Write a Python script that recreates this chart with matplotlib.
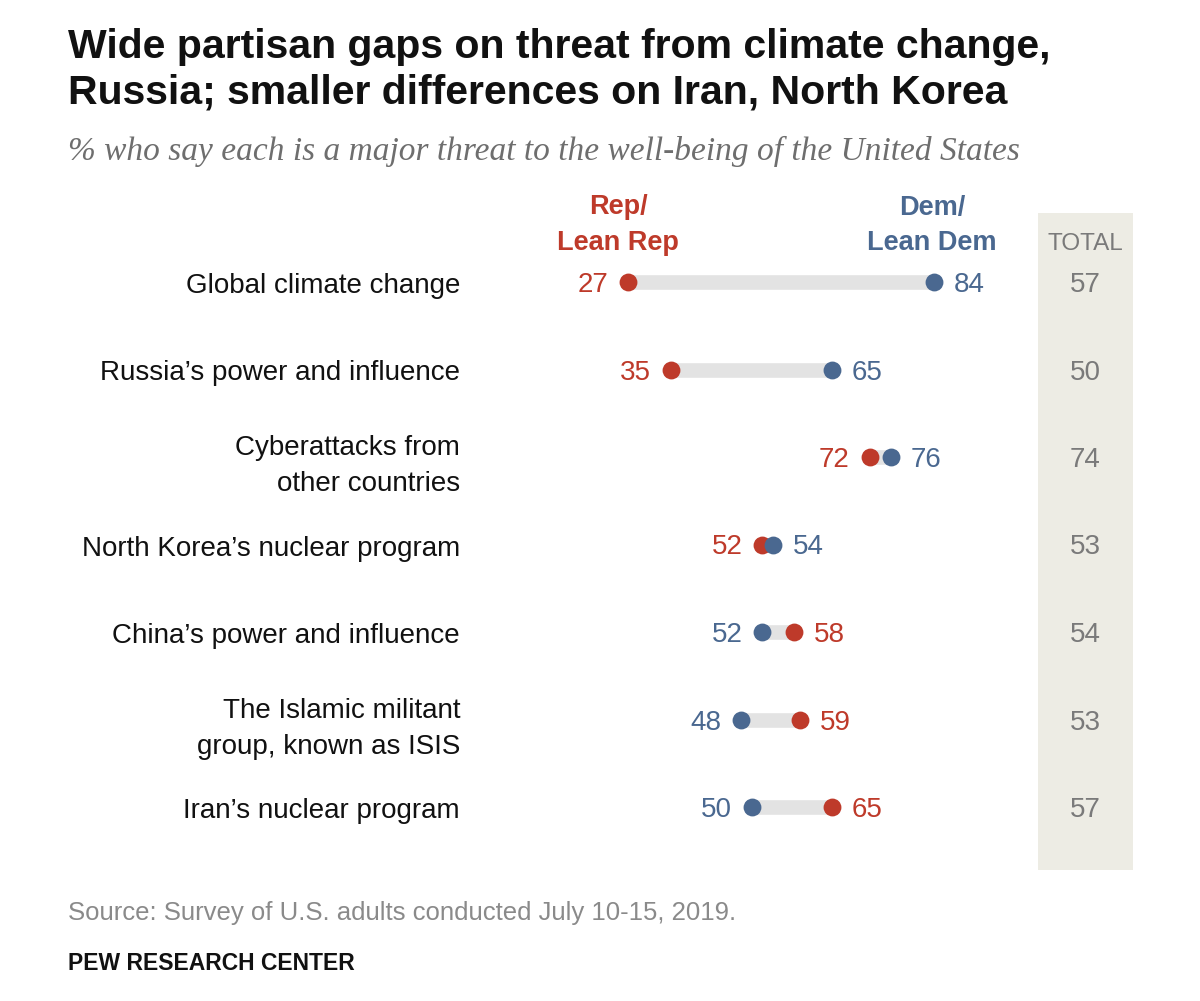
import matplotlib
matplotlib.use("Agg")
import matplotlib.pyplot as plt
from matplotlib.patches import Rectangle

categories = ["Global climate change", "Russia\u2019s power and influence",
              "Cyberattacks from\nother countries", "North Korea\u2019s nuclear program",
              "China\u2019s power and influence", "The Islamic militant\ngroup, known as ISIS",
              "Iran\u2019s nuclear program"]
rep = [27, 35, 72, 52, 58, 59, 65]
dem = [84, 65, 76, 54, 52, 48, 50]
total = [57, 50, 74, 53, 54, 53, 57]

RED = "#BE3A2A"
BLUE = "#4A6890"
LINE = "#E3E3E3"
GRAY = "#7A7A7A"
SHADE = "#EDECE4"

W, H = 1200, 1001
fig = plt.figure(figsize=(W / 100, H / 100), dpi=100)
fig.patch.set_facecolor("white")

x0px, scale = 483.0, 5.37
rowpx0, rowstep = 282.0, 87.5
left = x0px / W
width = 100 * scale / W
top_px = rowpx0 - rowstep / 2
bot_px = rowpx0 + 6 * rowstep + rowstep / 2
ax = fig.add_axes([left, 1 - bot_px / H, width, (bot_px - top_px) / H])
ax.set_xlim(0, 100)
ax.set_ylim(6.5, -0.5)
ax.axis("off")

font = "Liberation Sans"
FS = 20

sx0 = (1038 - x0px) / scale
sx1 = (1133 - x0px) / scale
sy0 = (213 - rowpx0) / rowstep
sy1 = (870 - rowpx0) / rowstep
ax.add_patch(Rectangle((sx0, sy0), sx1 - sx0, sy1 - sy0, facecolor=SHADE,
                       edgecolor="none", clip_on=False, zorder=0))
tx = (sx0 + sx1) / 2

off = 3.7
for i, cat in enumerate(categories):
    r, d = rep[i], dem[i]
    ax.plot([r, d], [i, i], color=LINE, lw=10.5, solid_capstyle="butt", zorder=1)
    ax.scatter([r], [i], s=165, color=RED, zorder=3, linewidths=0)
    ax.scatter([d], [i], s=165, color=BLUE, zorder=4, linewidths=0)
    if r < d:
        ax.text(r - off, i, str(r), color=RED, ha="right", va="center_baseline", fontsize=FS, family=font)
        ax.text(d + off, i, str(d), color=BLUE, ha="left", va="center_baseline", fontsize=FS, family=font)
    else:
        ax.text(d - off, i, str(d), color=BLUE, ha="right", va="center_baseline", fontsize=FS, family=font)
        ax.text(r + off, i, str(r), color=RED, ha="left", va="center_baseline", fontsize=FS, family=font)
    dy = 9 if "\n" in cat else 4
    ax.text((460 - x0px) / scale, i + dy / rowstep, cat, ha="right", va="center", fontsize=FS,
            family=font, color="#111111", linespacing=1.5, clip_on=False)
    ax.text(tx, i, str(total[i]), ha="center", va="center_baseline", fontsize=FS,
            family=font, color=GRAY)

hy = (225 - rowpx0) / rowstep
ax.text((618 - x0px) / scale, hy, "Rep/\nLean Rep", ha="center", va="center",
        fontsize=19.5, fontweight="bold", color=RED, family=font, linespacing=1.45)
ax.text((932 - x0px) / scale, hy, "Dem/\nLean Dem", ha="center", va="center",
        fontsize=19.5, fontweight="bold", color=BLUE, family=font, linespacing=1.45)
ax.text(tx, (242 - rowpx0) / rowstep, "TOTAL", ha="center", va="center_baseline",
        fontsize=17.5, color=GRAY, family=font)

fig.text(68 / W, 1 - 28 / H,
         "Wide partisan gaps on threat from climate change,\nRussia; smaller differences on Iran, North Korea",
         ha="left", va="top", fontsize=29.5, fontweight="bold", family=font,
         color="#111111", linespacing=1.25)
fig.text(68 / W, 1 - 151 / H,
         "% who say each is a major threat to the well-being of the United States",
         ha="left", va="center", fontsize=24, style="italic", family="Liberation Serif",
         color="#6E6E6E")

fig.text(68 / W, 1 - 913 / H, "Source: Survey of U.S. adults conducted July 10-15, 2019.",
         ha="left", va="center", fontsize=18.5, family=font, color="#8A8A8A")
fig.text(68 / W, 1 - 963 / H, "PEW RESEARCH CENTER", ha="left", va="center",
         fontsize=16.5, fontweight="bold", family=font, color="#111111")

fig.savefig("out.png", dpi=100, facecolor="white")
